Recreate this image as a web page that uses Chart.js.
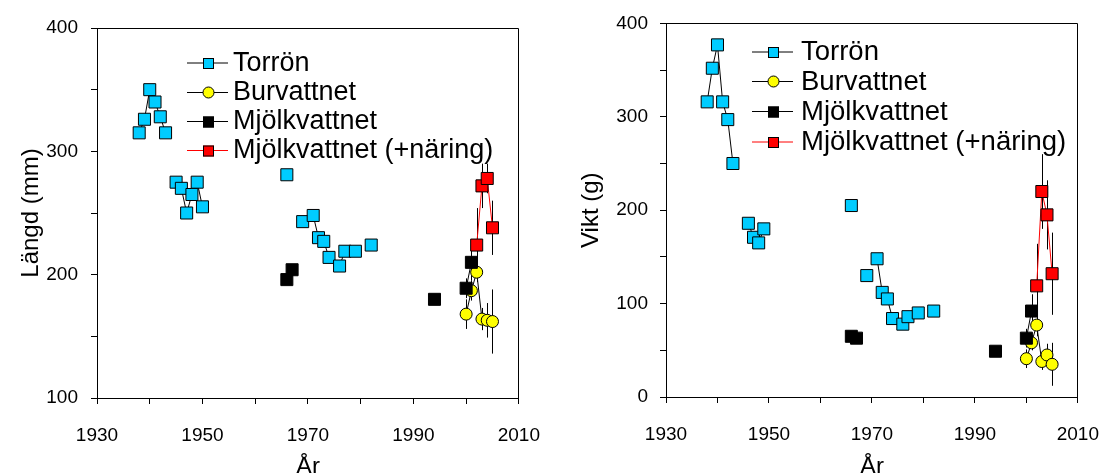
<!DOCTYPE html>
<html><head><meta charset="utf-8">
<script src="https://cdn.jsdelivr.net/npm/chart.js@4/dist/chart.umd.min.js"></script>
<style>
html,body{margin:0;padding:0;background:#fff;}
#wrap{position:relative;width:1119px;height:473px;overflow:hidden;background:#fff;}
canvas{position:absolute;top:0;}
#c1{left:0;} #c2{left:559px;}
</style></head><body>
<div id="wrap"><canvas id="c1" width="560" height="473"></canvas><canvas id="c2" width="560" height="473"></canvas></div>
<script>
// ---------- data ----------
const seriesNames = ['Torrön', 'Burvattnet', 'Mjölkvattnet', 'Mjölkvattnet (+näring)'];

const torronYears = [1938,1939,1940,1941,1942,1943,1944,1945,1946,1947,1948,1949,1950,1951,1966,1967,1968,1969,1970,1971,1972,1973,1974,1975,1976,1977,1978,1979,1980,1981,1982];
const torronLangd = [315,326,350,340,328,315,null,275,270,250,265,275,255,null,281,null,null,243,null,248,230,227,214,null,207,219,null,219,null,null,224];
const torronVikt  = [316,352,377,316,297,250,null,null,186,171,165,180,null,null,205,null,null,130,null,148,112,105,84,null,78,86,null,90,null,null,92];

const burYears = [2000,2001,2002,2003,2004,2005];
const burLangd = [168,187,202,164,163,162];
const burLangdErr = [12,8,7,9,14,26];
const burVikt = [41,58,77,38,45,35];
const burViktErr = [10,8,12,9,12,23];

const mjoYears = [1966,1967,1968,1994,1999,2000,2001];
const mjoLangd = [196,204,null,180,null,189,210];
const mjoLangdErr = [0,0,0,0,0,8,15];
const mjoVikt = [65,63,null,49,null,63,92];
const mjoViktErr = [0,0,0,0,0,10,18];

const narYears = [2002,2003,2004,2005];
const narLangd = [224,272,278,238];
const narLangdErr = [30,18,12,22];
const narVikt = [119,220,195,132];
const narViktErr = [45,40,37,44];

const xTickLabels = [1930,1950,1970,1990,2010];
const langdTickLabels = [100,200,300,400];
const viktTickLabels = [0,100,200,300,400];

// ---------- helpers ----------
const FONT = "'Liberation Sans', Arial, Helvetica, sans-serif";
Chart.defaults.font.family = FONT;
Chart.defaults.color = '#000';
function pts(xs, ys){ return xs.map((x,i)=>({x:x, y:ys[i]})); }

const errorBarPlugin = {
  id:'errbars',
  beforeDatasetsDraw(chart){
    const {ctx, chartArea:a, scales} = chart;
    const x = scales.x, y = scales.y;
    ctx.save();
    ctx.beginPath(); ctx.rect(a.left, a.top, a.right-a.left, a.bottom-a.top); ctx.clip();
    ctx.strokeStyle = '#000'; ctx.lineWidth = 1;
    chart.data.datasets.forEach(ds=>{
      if(!ds.errs) return;
      ds.data.forEach((p,i)=>{
        const e = ds.errs[i];
        if(p.y == null || !e) return;
        const px = Math.round(x.getPixelForValue(p.x)) + 0.5;
        ctx.beginPath();
        ctx.moveTo(px, y.getPixelForValue(p.y - e));
        ctx.lineTo(px, y.getPixelForValue(p.y + e));
        ctx.stroke();
      });
    });
    ctx.restore();
  }
};

const framePlugin = {
  id:'frame',
  afterDraw(chart){
    const {ctx, chartArea:a} = chart;
    ctx.save();
    ctx.strokeStyle = '#000'; ctx.lineWidth = 1;
    ctx.beginPath();
    ctx.moveTo(Math.round(a.left), Math.round(a.top)+0.5);
    ctx.lineTo(Math.round(a.right)-0.5, Math.round(a.top)+0.5);
    ctx.lineTo(Math.round(a.right)-0.5, Math.round(a.bottom));
    ctx.stroke();
    ctx.restore();
  }
};

const legendPlugin = {
  id:'fishLegend',
  afterDraw(chart, args, opts){
    const ctx = chart.ctx;
    ctx.save();
    chart.data.datasets.forEach((ds,i)=>{
      const yy = opts.rows[i];
      ctx.strokeStyle = ds.borderColor; ctx.lineWidth = 1;
      ctx.beginPath(); ctx.moveTo(opts.x0, yy+0.5); ctx.lineTo(opts.x1, yy+0.5); ctx.stroke();
      const mx = Math.round((opts.x0+opts.x1)/2);
      ctx.fillStyle = ds.pointBackgroundColor; ctx.strokeStyle = '#000';
      if(ds.pointStyle === 'circle'){
        ctx.beginPath(); ctx.arc(mx+0.5, yy+0.5, 5.5, 0, Math.PI*2); ctx.fill(); ctx.stroke();
      } else {
        ctx.fillRect(mx-5, yy-4.5, 11, 11);
        ctx.strokeRect(mx-4.5, yy-4, 10, 10);
      }
      ctx.fillStyle = '#000'; ctx.font = opts.size + 'px ' + FONT;
      ctx.textBaseline = 'middle'; ctx.textAlign = 'left';
      ctx.fillText(ds.label, opts.textX, yy+1);
    });
    ctx.restore();
  }
};

function makeDatasets(tY, bY, bE, mY, mE, nY, nE){
  return [
    {label:seriesNames[0], data:pts(torronYears, tY), order:3, pointStyle:'rect', pointRadius:8.5,
     pointBackgroundColor:'#00CCFF', backgroundColor:'#00CCFF', borderColor:'#000'},
    {label:seriesNames[1], data:pts(burYears, bY), errs:bE, order:2, pointStyle:'circle', pointRadius:6,
     pointBackgroundColor:'#FFFF00', backgroundColor:'#FFFF00', borderColor:'#000'},
    {label:seriesNames[2], data:pts(mjoYears, mY), errs:mE, order:1, pointStyle:'rect', pointRadius:8.5,
     pointBackgroundColor:'#000000', backgroundColor:'#000000', borderColor:'#000'},
    {label:seriesNames[3], data:pts(narYears, nY), errs:nE, order:0, pointStyle:'rect', pointRadius:8.5,
     pointBackgroundColor:'#FF0000', backgroundColor:'#FF0000', borderColor:'#FF0000'}
  ].map(d=>Object.assign({borderWidth:1, pointBorderColor:'#000', pointBorderWidth:1, showLine:true,
     spanGaps:false, tension:0, pointHoverRadius:d.pointRadius}, d));
}

function makeOptions(cfg){
  return {
    responsive:false, animation:false, devicePixelRatio:1, events:[],
    layout:{padding:{top:cfg.top, right:cfg.right, left:0, bottom:0}},
    plugins:{legend:{display:false}, tooltip:{enabled:false},
      fishLegend:{x0:cfg.legX0, x1:cfg.legX1, textX:cfg.legText, rows:cfg.legRows, size:cfg.legSize}},
    scales:{
      x:{type:'linear', min:1930, max:2010,
        afterFit:(s)=>{ s.height = cfg.xHeight; },
        ticks:{stepSize:10, autoSkip:false, maxRotation:0, padding:20, font:{size:19},
          callback:(v)=> xTickLabels.includes(v) ? String(v) : ''},
        grid:{drawOnChartArea:false, drawTicks:true, tickLength:6, color:'#000'},
        border:{color:'#000', width:1},
        title:{display:true, text:'År', font:{size:24, lineHeight:0.5}, padding:0}},
      y:{type:'linear', min:cfg.yMin, max:cfg.yMax,
        afterFit:(s)=>{ s.width = cfg.yWidth; },
        ticks:{stepSize:50, autoSkip:false, padding:cfg.yPad, font:{size:19},
          callback:(v)=> cfg.yLabels.includes(v) ? String(v) : ''},
        grid:{drawOnChartArea:false, drawTicks:true, tickLength:6, color:'#000'},
        border:{color:'#000', width:1},
        title:{display:true, text:cfg.yTitle, font:{size:24}, padding:{top:cfg.yTitlePad, bottom:0}}}
    }
  };
}

new Chart(document.getElementById('c1'), {
  type:'line',
  data:{datasets:makeDatasets(torronLangd, burLangd, burLangdErr, mjoLangd, mjoLangdErr, narLangd, narLangdErr)},
  options:makeOptions({top:28, right:41, xHeight:75, yWidth:97, yMin:100, yMax:400, yLabels:langdTickLabels,
    yPad:13, yTitle:'Längd (mm)', yTitlePad:17,
    legX0:187, legX1:228, legText:233, legRows:[62.5, 92, 121, 150], legSize:27}),
  plugins:[errorBarPlugin, framePlugin, legendPlugin]
});

new Chart(document.getElementById('c2'), {
  type:'line',
  data:{datasets:makeDatasets(torronVikt, burVikt, burViktErr, mjoVikt, mjoViktErr, narVikt, narViktErr)},
  options:makeOptions({top:20, right:23, xHeight:76, yWidth:107, yMin:0, yMax:400, yLabels:viktTickLabels,
    yPad:12, yTitle:'Vikt (g)', yTitlePad:18,
    legX0:193, legX1:234, legText:242, legRows:[51.5, 81, 111, 141.5], legSize:27.5}),
  plugins:[errorBarPlugin, framePlugin, legendPlugin]
});
</script>
</body></html>
